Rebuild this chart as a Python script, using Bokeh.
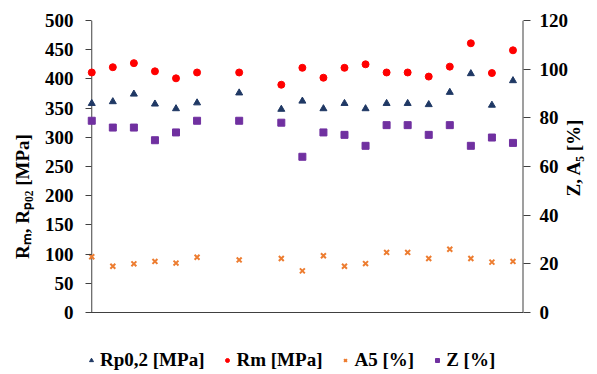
import math
from bokeh.plotting import figure
from bokeh.models import (Range1d, LinearAxis, FixedTicker, Span,
                          Legend, LegendItem)
from bokeh.embed import file_html
from bokeh.resources import INLINE

# ---------------- data ----------------
samples = [1, 2, 3, 4, 5, 6, 8, 10, 11, 12, 13, 14, 15, 16, 17, 18, 19, 20, 21]
rp02 = [358, 361, 374, 357, 349, 359, 376, 348, 362, 349, 358, 349, 358, 358, 356, 377, 409, 355, 397]
rm = [411, 420, 427, 413, 401, 411, 411, 390, 419, 402, 419, 425, 411, 411, 404, 421, 461, 410, 449]
a5 = [22.9, 19.0, 20.0, 21.0, 20.3, 22.7, 21.6, 22.2, 17.1, 23.3, 19.0, 20.1, 24.7, 24.7, 22.2, 26.0, 22.2, 20.7, 21.0]
z = [78.8, 76.0, 76.0, 70.8, 74.0, 78.8, 78.8, 78.0, 64.0, 74.0, 73.0, 68.5, 77.0, 77.0, 73.0, 77.0, 68.5, 71.9, 69.7]

left_ticks = [0, 50, 100, 150, 200, 250, 300, 350, 400, 450, 500]
right_ticks = [0, 20, 40, 60, 80, 100, 120]
legend_labels = ["Rp0,2 [MPa]", "Rm [MPa]", "A5 [%]", "Z [%]"]
left_title = "R\u2098, R\u209a\u2080\u2082 [MPa]"
right_title = "Z, A\u2085 [%]"

# ---------------- layout ----------------
W, H = 597, 374
BL, BR, BT, BB = 86, 69, 20, 2
ZERO_PX = 312                 # pixel row of the value 0 on both y axes
FB = H - BB                   # frame bottom (frame also holds the legend strip)
X0, X1 = 0.75, 21.5
L_MAX, R_MAX = left_ticks[-1], right_ticks[-1]
l_start = -L_MAX * (FB - ZERO_PX) / (ZERO_PX - BT)
r_start = -R_MAX * (FB - ZERO_PX) / (ZERO_PX - BT)
FONT = "Liberation Serif"
AX = "#404040"

p = figure(width=W, height=H, x_range=Range1d(X0, X1), y_range=Range1d(l_start, L_MAX),
           output_backend="svg", toolbar_location=None,
           min_border_left=BL, min_border_right=BR, min_border_top=BT, min_border_bottom=BB)
p.extra_y_ranges = {"right": Range1d(r_start, R_MAX)}
p.grid.visible = False
p.outline_line_color = None
p.background_fill_color = "white"
p.border_fill_color = "white"

xa = p.xaxis[0]
xa.ticker = FixedTicker(ticks=[])
xa.major_tick_out = 0
xa.major_tick_in = 0
xa.minor_tick_out = 0
xa.major_label_standoff = 0
xa.major_label_text_font_size = "0px"
xa.visible = False

ya = p.yaxis[0]
ya.ticker = FixedTicker(ticks=left_ticks)
ya.axis_line_color = None
ya.major_tick_in = 5
ya.major_tick_out = 1
ya.major_tick_line_color = AX
ya.minor_tick_line_color = None
ya.major_label_standoff = 12
ya.major_label_text_font = FONT
ya.major_label_text_font_style = "bold"
ya.major_label_text_font_size = "19px"
ya.major_label_text_color = "black"
ya.axis_label = left_title
ya.axis_label_standoff = 9
ya.axis_label_text_font = FONT
ya.axis_label_text_font_style = "bold"
ya.axis_label_text_font_size = "19px"
ya.axis_label_text_color = "black"

ra = LinearAxis(y_range_name="right", ticker=FixedTicker(ticks=right_ticks))
ra.axis_line_color = None
ra.major_tick_in = 0
ra.major_tick_out = 7
ra.major_tick_line_color = AX
ra.minor_tick_line_color = None
ra.major_label_standoff = 9
ra.major_label_text_font = FONT
ra.major_label_text_font_style = "bold"
ra.major_label_text_font_size = "19px"
ra.major_label_text_color = "black"
ra.axis_label = right_title
ra.axis_label_orientation = math.pi / 2
ra.axis_label_text_align = "center"
ra.axis_label_standoff = 2
ra.axis_label_text_font = FONT
ra.axis_label_text_font_style = "bold"
ra.axis_label_text_font_size = "19px"
ra.axis_label_text_color = "black"
p.add_layout(ra, "right")

# axis lines: value axes from 0 to their maxima, category axis at value 0
p.segment(x0=[samples[0]], y0=[left_ticks[0]], x1=[samples[0]], y1=[L_MAX],
          line_color=AX, line_width=1, level="underlay")
p.segment(x0=[X1], y0=[right_ticks[0]], x1=[X1], y1=[R_MAX], y_range_name="right",
          line_color=AX, line_width=2, level="underlay")
p.add_layout(Span(location=left_ticks[0], dimension="width", line_color=AX,
                  line_width=1, level="underlay"))

r1 = p.scatter(samples, rp02, marker="triangle", size=7, color="#1F3864")
r2 = p.scatter(samples, rm, marker="circle", size=7, color="#FF0000")
r3 = p.scatter(samples, a5, marker="x", size=7, line_color="#ED7D31", line_width=2,
               y_range_name="right")
r4 = p.scatter(samples, z, marker="square", size=7, color="#7030A0",
               y_range_name="right")

legend = Legend(items=[LegendItem(label=lab, renderers=[r])
                       for lab, r in zip(legend_labels, [r1, r2, r3, r4])],
                orientation="horizontal", location=(0, 1),
                border_line_color=None, background_fill_alpha=0,
                padding=0, margin=0, spacing=18,
                glyph_width=10, glyph_height=20, label_height=20, label_standoff=4,
                label_text_font=FONT, label_text_font_style="bold",
                label_text_font_size="19px", label_text_color="black")
p.add_layout(legend)

open("out.html", "w").write(file_html(p, INLINE))
